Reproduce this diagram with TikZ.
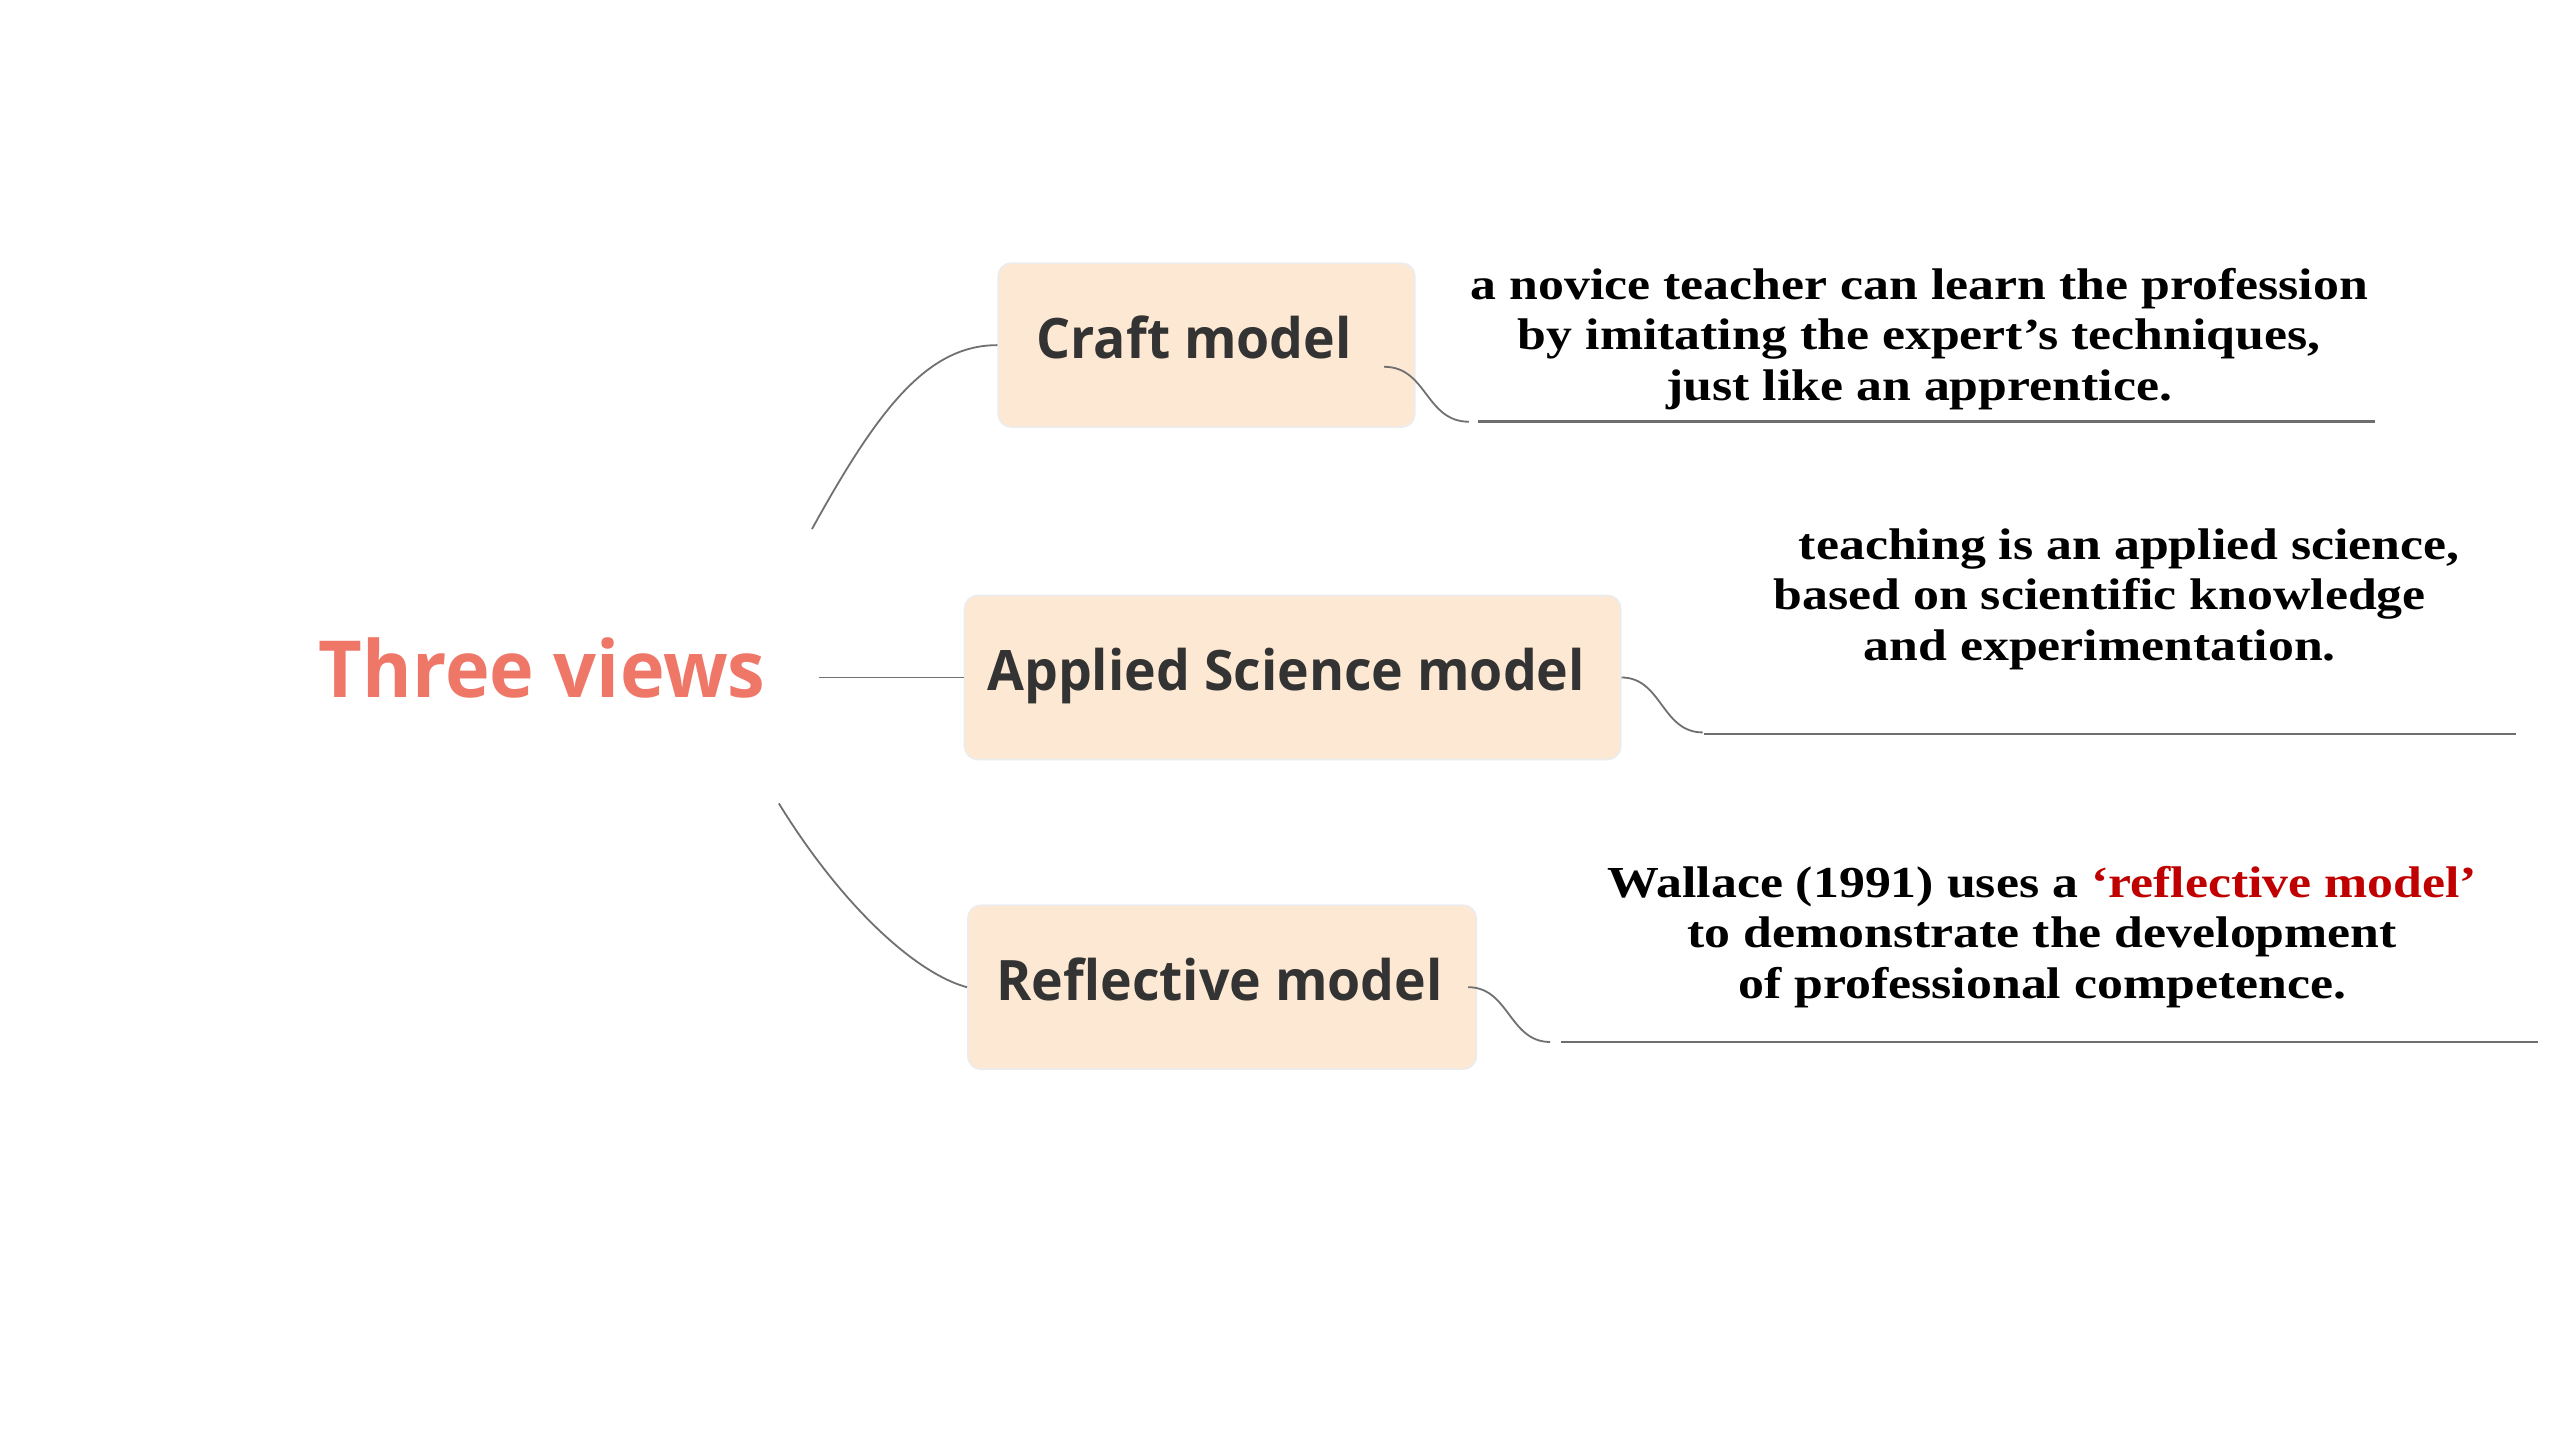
\documentclass[tikz,border=0pt]{standalone}
\usepackage{fontspec}
\setmainfont{Liberation Serif}
\newfontfamily\descfont[FakeStretch=1.17]{Liberation Serif}
\newfontfamily\boxfont[FakeStretch=0.96]{Open Sans}
\definecolor{rootred}{HTML}{EF7768}
\definecolor{boxfill}{HTML}{FDE9D3}
\definecolor{boxline}{HTML}{ECECEF}
\definecolor{boxtext}{HTML}{333333}
\definecolor{linkgray}{HTML}{707070}
\definecolor{undergray}{HTML}{6E6E6E}
\definecolor{accentred}{HTML}{C00000}
\tikzset{
  rootlbl/.style={font=\boxfont\bfseries\fontsize{24}{28}\selectfont, text=rootred, inner sep=0pt, anchor=base},
  topic/.style={draw=boxline, line width=0.5pt, fill=boxfill, rounded corners=4pt, inner sep=0pt, minimum height=50pt},
  topiclbl/.style={font=\boxfont\bfseries\fontsize{17}{20}\selectfont, text=boxtext, inner sep=0pt, anchor=base},
  desc/.style={font=\descfont\bfseries\fontsize{13.5}{15.3}\selectfont, align=center, inner sep=0pt, anchor=base},
  link/.style={draw=linkgray, line width=0.55pt},
  under/.style={draw=undergray, line width=0.8pt}
}
\begin{document}
\begin{tikzpicture}[x=0.5pt,y=-0.5pt]
\useasboundingbox (0,0) rectangle (1560,877.86);
% root
\node[rootlbl] (root) at (330.5,425) {Three views};
% topic boxes
\node[topic, minimum width=127pt] (craftbox) at (735.5,210.4) {};
\node[topic, minimum width=200pt] (appbox) at (788,413) {};
\node[topic, minimum width=155pt] (reflbox) at (745,601.8) {};
\node[topiclbl] (crafttxt) at (728,218.3) {Craft model};
\node[topiclbl] (apptxt) at (784,420.7) {Applied Science model};
\node[topiclbl] (refltxt) at (743.5,609.8) {Reflective model};
% root connectors
\coordinate (r1) at (495,322.5);
\coordinate (r2) at (499,413);
\coordinate (r3) at (474.8,489.8);
\draw[link] (r1) .. controls (535,250) and (565,210.4) .. (craftbox.west);
\draw[link] (r2) -- (appbox.west);
\draw[link] (r3) .. controls (515,555) and (560,594) .. (reflbox.west);
% sub connectors
\coordinate (c1) at (843.8,223.6);
\coordinate (c2) at (895.5,257.1);
\coordinate (cu1) at (901,257.1);
\coordinate (cu2) at (1448,257.1);
\draw[link] (c1) .. controls (870,223.6) and (869,257.1) .. (c2);
\draw[under] (cu1) -- (cu2);
\coordinate (a1) at (988.5,413);
\coordinate (a2) at (1038,446.5);
\coordinate (au1) at (1039,447.5);
\coordinate (au2) at (1534,447.5);
\draw[link] (a1) .. controls (1013,413) and (1013,446.5) .. (a2);
\draw[under] (au1) -- (au2);
\coordinate (f1) at (895,601.8);
\coordinate (f2) at (945,635.2);
\coordinate (fu1) at (951.6,635.2);
\coordinate (fu2) at (1547,635.2);
\draw[link] (f1) .. controls (920,601.8) and (920,635.2) .. (f2);
\draw[under] (fu1) -- (fu2);
% descriptions (base anchor = baseline of the last line)
\node[desc] (craftdesc) at (1170,243.9) {a novice teacher can learn the profession\\by imitating the expert’s techniques,\\just like an apprentice.};
\node[desc] (appdesc) at (1280,402.4) {\hspace*{18pt}teaching is an applied science,\\based on scientific knowledge\\and experimentation.};
\node[desc] (refldesc) at (1245,608.5) {Wallace (1991) uses a {\color{accentred}‘reflective model’}\\to demonstrate the development\\of professional competence.};
\end{tikzpicture}
\end{document}
